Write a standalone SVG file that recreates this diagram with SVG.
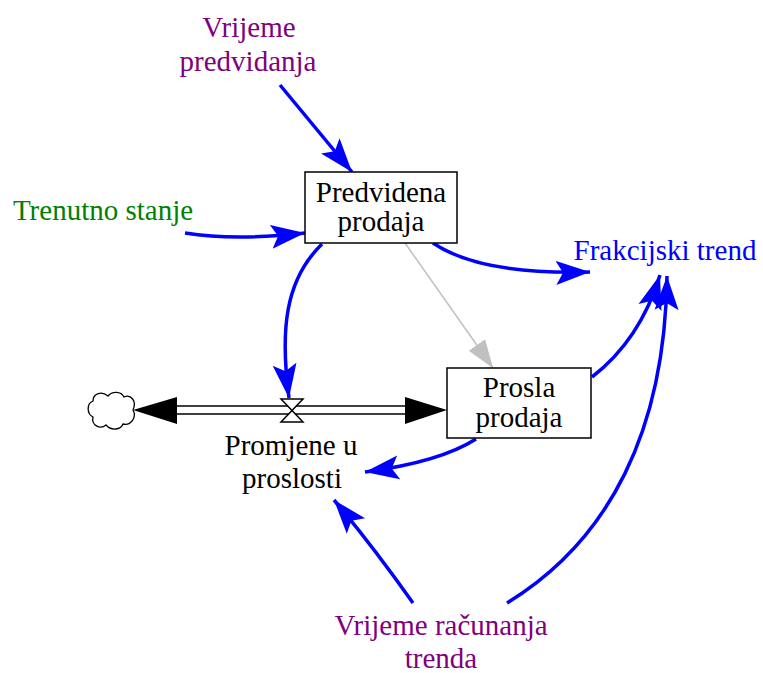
<svg xmlns="http://www.w3.org/2000/svg" width="763" height="673" viewBox="0 0 763 673">
<style>
text{font-family:"Liberation Serif","Times New Roman",serif;font-size:29px;text-anchor:middle}
.purple{fill:#800080}
.green{fill:#008000}
.blue{fill:#0000FF}
.black{fill:#000}
.box{fill:#fff;stroke:#000;stroke-width:1.5}
.link{fill:none;stroke:#0000FF;stroke-width:3.5}
.glink{fill:none;stroke:#C0C0C0;stroke-width:1.5}
.pipe{fill:none;stroke:#000;stroke-width:1.5}
</style>
<defs>
<marker id="ab" markerUnits="userSpaceOnUse" markerWidth="38" markerHeight="28" refX="34" refY="13" orient="auto">
<path d="M0,1 L34,13 L0,25 L7,13 Z" fill="#0000FF"/>
</marker>
<marker id="ag" markerUnits="userSpaceOnUse" markerWidth="32" markerHeight="26" refX="28" refY="11" orient="auto">
<path d="M0,1 L28,11 L0,21 Z" fill="#C0C0C0"/>
</marker>
</defs>
<g id="connectors">
<path class="link" d="M280,85 L352,172" marker-end="url(#ab)"/>
<path class="link" d="M185,233 Q235,241 305,233" marker-end="url(#ab)"/>
<path class="link" d="M433,243 Q480,275 590,272" marker-end="url(#ab)"/>
<path class="link" d="M322,244 C285,280 280,330 289,398" marker-end="url(#ab)"/>
<path class="link" d="M592,377 Q640,340 660,275" marker-end="url(#ab)"/>
<path class="link" d="M507,603 C610,540 665,430 667,276" marker-end="url(#ab)"/>
<path class="link" d="M476,439 Q440,462 365,472" marker-end="url(#ab)"/>
<path class="link" d="M413,603 Q372,545 334,500" marker-end="url(#ab)"/>
<path class="glink" d="M405,243 L493,368" marker-end="url(#ag)"/>
</g>
<g id="flow">
<line class="pipe" x1="170" y1="406" x2="410" y2="406"/>
<line class="pipe" x1="170" y1="414" x2="410" y2="414"/>
<path d="M133,410 L177,397 L177,424 Z" fill="#000"/>
<path d="M447,410 L405,397 L405,424 Z" fill="#000"/>
<path d="M281,399 L303,399 L281,422 L303,422 Z" fill="#fff" stroke="#000" stroke-width="1.5"/>
</g>
<g id="cloud">
<path d="M133,410 C137,401 131,394 124,397 C121,391 112,391 108,396 C102,391 93,393 93,401 C86,404 87,414 93,417 C91,425 100,430 106,425 C111,431 121,430 123,424 C131,426 137,417 133,410 Z" fill="#fff" stroke="#000" stroke-width="1.3"/>
</g>
<g id="vrijeme-predvidanja">
<text class="purple" x="249" y="37">Vrijeme</text>
<text class="purple" x="248" y="71">predvidanja</text>
</g>
<g id="trenutno-stanje">
<text class="green" x="103" y="220">Trenutno stanje</text>
</g>
<g id="predvidena-prodaja">
<rect class="box" x="305" y="172" width="152" height="71"/>
<text class="black" x="381" y="202">Predvidena</text>
<text class="black" x="381" y="231">prodaja</text>
</g>
<g id="frakcijski-trend">
<text class="blue" x="665" y="260">Frakcijski trend</text>
</g>
<g id="prosla-prodaja">
<rect class="box" x="447" y="368" width="144" height="70"/>
<text class="black" x="519" y="397">Prosla</text>
<text class="black" x="519" y="427">prodaja</text>
</g>
<g id="promjene-u-proslosti">
<text class="black" x="291" y="455">Promjene u</text>
<text class="black" x="292" y="488">proslosti</text>
</g>
<g id="vrijeme-racunanja-trenda">
<text class="purple" x="441" y="635">Vrijeme računanja</text>
<text class="purple" x="441" y="668">trenda</text>
</g>
</svg>
